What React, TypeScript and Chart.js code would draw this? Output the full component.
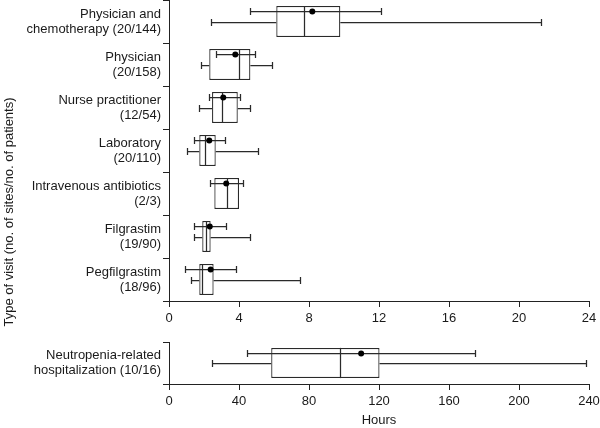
import React, { useEffect, useRef } from 'react';
import { Chart, registerables } from 'chart.js';

Chart.register(...registerables);

// ---------- Data (hours) ----------
const visitLabels = [
  ['Physician and', 'chemotherapy (20/144)'],
  ['Physician', '(20/158)'],
  ['Nurse practitioner', '(12/54)'],
  ['Laboratory', '(20/110)'],
  ['Intravenous antibiotics', '(2/3)'],
  ['Filgrastim', '(19/90)'],
  ['Pegfilgrastim', '(18/96)'],
];
const visitWhiskerLow = [2.4, 1.81, 1.7, 1.05, null, 1.41, 1.24];
const visitQ1 = [6.13, 2.3, 2.46, 1.73, 2.59, 1.9, 1.73];
const visitMedian = [7.7, 4.02, 3.01, 2.08, 3.3, 2.11, 1.87];
const visitQ3 = [9.79, 4.65, 3.93, 2.67, 4.0, 2.38, 2.55];
const visitWhiskerHigh = [21.26, 5.9, 4.63, 5.09, null, 4.65, 7.49];
const visitMean = [8.19, 3.79, 3.1, 2.3, 3.27, 2.33, 2.38];
const visitMeanLow = [4.65, 2.7, 2.27, 1.41, 2.32, 1.45, 0.91];
const visitMeanHigh = [12.1, 4.91, 4.04, 3.2, 4.25, 3.26, 3.83];
const visitTicks = [0, 4, 8, 12, 16, 20, 24];

const hospLabels = [['Neutropenia-related', 'hospitalization (10/16)']];
const hospWhiskerLow = [24.8];
const hospQ1 = [58.4];
const hospMedian = [97.6];
const hospQ3 = [120.3];
const hospWhiskerHigh = [238.3];
const hospMean = [109.8];
const hospMeanLow = [44.6];
const hospMeanHigh = [174.8];
const hospTicks = [0, 40, 80, 120, 160, 200, 240];

const yAxisTitle = 'Type of visit (no. of sites/no. of patients)';
const xAxisTitle = 'Hours';

// ---------- Styles ----------
const LINE = '#2a2a2a';
const AXIS = '#222222';
const TEXT = '#1a1a1a';
const FAMILY = '"Liberation Sans", Arial, Helvetica, sans-serif';
const MARK_W = 1.25;

const px = (v: number) => Math.round(v) + 0.5;

const boxDecor = {
  id: 'boxDecor',
  beforeDatasetsDraw(chart: any, _args: any, opts: any) {
    const { ctx, scales } = chart;
    const x = scales.x;
    const y = scales.y;
    ctx.save();
    ctx.strokeStyle = LINE;
    ctx.lineWidth = MARK_W;
    (opts.q1 as number[]).forEach((q1, i) => {
      const lo = opts.low[i];
      const hi = opts.high[i];
      if (lo == null || hi == null) return;
      const cy = px(y.getPixelForValue(i));
      const cap = 3.5;
      const xl = px(x.getPixelForValue(lo));
      const xq1 = x.getPixelForValue(q1);
      const xq3 = x.getPixelForValue(opts.q3[i]);
      const xh = px(x.getPixelForValue(hi));
      ctx.beginPath();
      ctx.moveTo(xl, cy);
      ctx.lineTo(xq1, cy);
      ctx.moveTo(xq3, cy);
      ctx.lineTo(xh, cy);
      ctx.moveTo(xl, cy - cap);
      ctx.lineTo(xl, cy + cap);
      ctx.moveTo(xh, cy - cap);
      ctx.lineTo(xh, cy + cap);
      ctx.stroke();
    });
    ctx.restore();
  },
  afterDatasetsDraw(chart: any, _args: any, opts: any) {
    const { ctx, scales } = chart;
    const x = scales.x;
    const meta = chart.getDatasetMeta(0);
    ctx.save();
    ctx.strokeStyle = LINE;
    ctx.lineWidth = MARK_W;
    (opts.median as number[]).forEach((med, i) => {
      const bar: any = meta.data[i];
      if (!bar) return;
      const h = bar.height;
      const top = bar.y - h / 2;
      const bottom = bar.y + h / 2;
      const xm = px(x.getPixelForValue(med));
      ctx.beginPath();
      ctx.moveTo(xm, top);
      ctx.lineTo(xm, bottom);
      ctx.stroke();
      // mean +/- error bar
      const my = px(bar.y - h * 0.33);
      const cap = 3.5;
      const ml = px(x.getPixelForValue(opts.meanLow[i]));
      const mh = px(x.getPixelForValue(opts.meanHigh[i]));
      ctx.beginPath();
      ctx.moveTo(ml, my);
      ctx.lineTo(mh, my);
      ctx.moveTo(ml, my - cap);
      ctx.lineTo(ml, my + cap);
      ctx.moveTo(mh, my - cap);
      ctx.lineTo(mh, my + cap);
      ctx.stroke();
      ctx.beginPath();
      ctx.fillStyle = '#000';
      ctx.arc(x.getPixelForValue(opts.mean[i]), my, 3, 0, Math.PI * 2);
      ctx.fill();
    });
    ctx.restore();
  },
};

const yTitlePlugin = {
  id: 'yTitle',
  afterDraw(chart: any, _args: any, opts: any) {
    if (!opts || !opts.text) return;
    const { ctx } = chart;
    ctx.save();
    ctx.translate(opts.x, opts.y);
    ctx.rotate(-Math.PI / 2);
    ctx.font = `13px ${FAMILY}`;
    ctx.fillStyle = TEXT;
    ctx.textAlign = 'center';
    ctx.textBaseline = 'middle';
    ctx.fillText(opts.text, 0, 0);
    ctx.restore();
  },
};

function makeConfig(p: {
  labels: string[][];
  low: (number | null)[];
  q1: number[];
  median: number[];
  q3: number[];
  high: (number | null)[];
  mean: number[];
  meanLow: number[];
  meanHigh: number[];
  ticks: number[];
  xMax: number;
  padTop: number;
  xHeight: number;
  showTitle: boolean;
  yTitle?: any;
}): any {
  const font = { family: FAMILY, size: 13, lineHeight: 15 / 13 };
  return {
    type: 'bar',
    data: {
      labels: p.labels,
      datasets: [
        {
          data: p.labels.map((_, i) => [p.q1[i], p.q3[i]]),
          backgroundColor: '#ffffff',
          borderColor: LINE,
          borderWidth: MARK_W,
          borderSkipped: false,
          barPercentage: 0.72,
          categoryPercentage: 1,
        },
      ],
    },
    options: {
      indexAxis: 'y',
      responsive: false,
      animation: false,
      layout: { padding: { top: p.padTop, right: 11, bottom: 0, left: 0 } },
      plugins: {
        legend: { display: false },
        tooltip: { enabled: false },
        boxDecor: {
          low: p.low,
          q1: p.q1,
          median: p.median,
          q3: p.q3,
          high: p.high,
          mean: p.mean,
          meanLow: p.meanLow,
          meanHigh: p.meanHigh,
        },
        yTitle: p.yTitle || {},
      },
      scales: {
        x: {
          type: 'linear',
          min: 0,
          max: p.xMax,
          afterBuildTicks: (s: any) => {
            s.ticks = p.ticks.map((v) => ({ value: v }));
          },
          grid: { drawOnChartArea: false, tickLength: 6, color: AXIS },
          border: { display: true, color: AXIS, width: 1 },
          ticks: { color: TEXT, font, padding: 4, maxRotation: 0, autoSkip: false },
          title: {
            display: p.showTitle,
            text: xAxisTitle,
            color: TEXT,
            font: { family: FAMILY, size: 13 },
            padding: { top: 0, bottom: 0 },
          },
          afterFit: (s: any) => {
            s.height = p.xHeight;
            s.paddingLeft = 0;
            s.paddingRight = 0;
          },
        },
        y: {
          type: 'category',
          grid: { offset: true, drawOnChartArea: false, tickLength: 6, color: AXIS },
          border: { display: true, color: AXIS, width: 1 },
          ticks: { color: TEXT, font, padding: 2, autoSkip: false },
          afterFit: (s: any) => {
            s.width = 169;
            s.paddingTop = 0;
            s.paddingBottom = 0;
          },
        },
      },
    },
    plugins: [boxDecor, yTitlePlugin],
  };
}

export default function App() {
  const topRef = useRef<HTMLCanvasElement | null>(null);
  const botRef = useRef<HTMLCanvasElement | null>(null);

  useEffect(() => {
    if (!topRef.current || !botRef.current) return;
    const top = new Chart(
      topRef.current,
      makeConfig({
        labels: visitLabels,
        low: visitWhiskerLow,
        q1: visitQ1,
        median: visitMedian,
        q3: visitQ3,
        high: visitWhiskerHigh,
        mean: visitMean,
        meanLow: visitMeanLow,
        meanHigh: visitMeanHigh,
        ticks: visitTicks,
        xMax: 24,
        padTop: 0,
        xHeight: 39,
        showTitle: false,
        yTitle: { text: yAxisTitle, x: 9, y: 212 },
      })
    );
    const bottom = new Chart(
      botRef.current,
      makeConfig({
        labels: hospLabels,
        low: hospWhiskerLow,
        q1: hospQ1,
        median: hospMedian,
        q3: hospQ3,
        high: hospWhiskerHigh,
        mean: hospMean,
        meanLow: hospMeanLow,
        meanHigh: hospMeanHigh,
        ticks: hospTicks,
        xMax: 240,
        padTop: 12,
        xHeight: 44,
        showTitle: true,
      })
    );
    return () => {
      top.destroy();
      bottom.destroy();
    };
  }, []);

  return (
    <div style={{ position: 'absolute', left: 0, top: 0, width: 600, height: 428, background: '#fff' }}>
      <canvas
        ref={topRef}
        width={600}
        height={340}
        style={{ position: 'absolute', left: 0, top: 0, display: 'block' }}
      />
      <canvas
        ref={botRef}
        width={600}
        height={98}
        style={{ position: 'absolute', left: 0, top: 330, display: 'block' }}
      />
    </div>
  );
}
